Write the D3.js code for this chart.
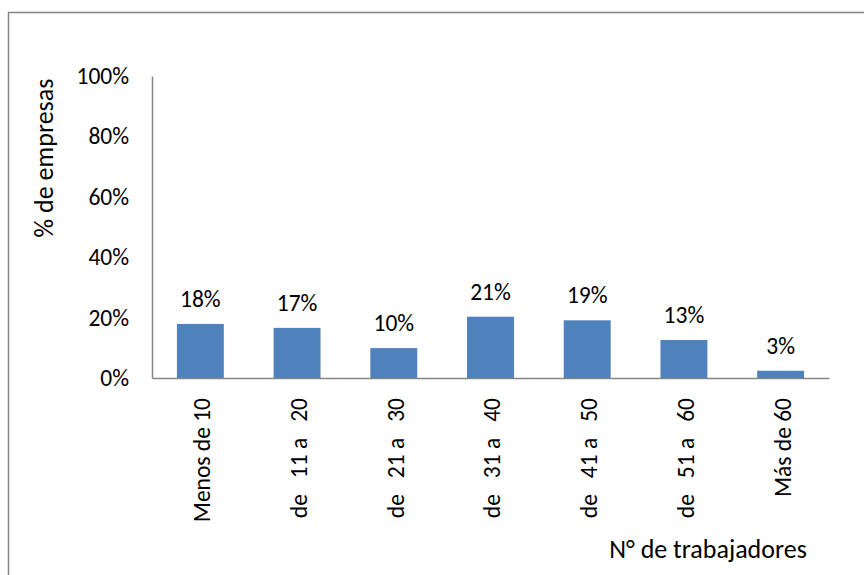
<!DOCTYPE html>
<html>
<head>
<meta charset="utf-8">
<script src="https://cdn.jsdelivr.net/npm/d3@7"></script>
<style>
  body { margin: 0; background: #fff; }
  svg { display: block; font-family: Calibri, Carlito, "Open Sans", sans-serif; }
</style>
</head>
<body>
<div id="chart"></div>
<script>
// categories (N° de trabajadores) and share of companies
const categories = ["Menos de 10", "de   11 a   20", "de   21 a   30", "de   31 a   40", "de   41 a   50", "de   51 a   60", "Más de 60"];
const values = [17.9, 16.6, 9.9, 20.3, 19.1, 12.6, 2.4];
const valueLabels = ["18%", "17%", "10%", "21%", "19%", "13%", "3%"];
const yTicks = [0, 20, 40, 60, 80, 100];

const config = {
  width: 864,
  height: 575,
  margin: { top: 76, right: 35, bottom: 197, left: 152 },
  tickFont: 23.5,
  titleFont: 26
};

const innerW = config.width - config.margin.left - config.margin.right;
const innerH = config.height - config.margin.top - config.margin.bottom;

const svg = d3.select("#chart")
  .append("svg")
  .attr("width", config.width)
  .attr("height", config.height);

// outer chart border (right and bottom edges fall off the picture)
svg.append("rect")
  .attr("x", 8.5)
  .attr("y", 12.5)
  .attr("width", 1000)
  .attr("height", 1000)
  .attr("fill", "none")
  .attr("stroke", "#868686")
  .attr("stroke-width", 1.5);

const g = svg.append("g")
  .attr("transform", `translate(${config.margin.left},${config.margin.top})`);

const x = d3.scaleBand()
  .domain(categories)
  .range([0, innerW])
  .paddingInner(0.515)
  .paddingOuter(0.2575);

const y = d3.scaleLinear()
  .domain([0, 100])
  .range([innerH, 0]);

// y axis
const yAxis = g.append("g")
  .call(d3.axisLeft(y).tickValues(yTicks).tickSize(0).tickPadding(23).tickFormat(d => d + "%"));
yAxis.select(".domain").attr("stroke", "#868686").attr("stroke-width", 1.5);
yAxis.selectAll("text")
  .attr("font-size", config.tickFont)
  .attr("fill", "#000")
  .attr("font-family", "Calibri, Carlito, 'Open Sans', sans-serif");

// bars
g.selectAll(".bar")
  .data(values)
  .join("rect")
  .attr("class", "bar")
  .attr("x", (d, i) => x(categories[i]))
  .attr("y", d => y(d))
  .attr("width", x.bandwidth())
  .attr("height", d => innerH - y(d))
  .attr("fill", "#4F81BD");

// data labels
g.selectAll(".val")
  .data(values)
  .join("text")
  .attr("class", "val")
  .attr("x", (d, i) => x(categories[i]) + x.bandwidth() / 2)
  .attr("y", d => y(d) - 17)
  .attr("text-anchor", "middle")
  .attr("font-size", config.tickFont)
  .text((d, i) => valueLabels[i]);

// x axis
const xAxis = g.append("g")
  .attr("transform", `translate(0,${innerH})`)
  .call(d3.axisBottom(x).tickSize(0).tickSizeOuter(0));
xAxis.select(".domain").attr("stroke", "#868686").attr("stroke-width", 1.5);
xAxis.selectAll("text")
  .attr("font-size", config.tickFont)
  .attr("fill", "#000")
  .attr("font-family", "Calibri, Carlito, 'Open Sans', sans-serif")
  .attr("text-anchor", "end")
  .attr("transform", "rotate(-90)")
  .attr("x", -20)
  .attr("y", 0)
  .attr("dy", "0.42em")
  .style("white-space", "pre");

// axis titles
svg.append("text")
  .attr("transform", "translate(44,158) rotate(-90)")
  .attr("text-anchor", "middle")
  .attr("dy", "0.35em")
  .attr("font-size", config.titleFont)
  .text("% de empresas");

svg.append("text")
  .attr("x", 708)
  .attr("y", 558)
  .attr("text-anchor", "middle")
  .attr("font-size", config.titleFont)
  .text("N° de trabajadores");
</script>
</body>
</html>
